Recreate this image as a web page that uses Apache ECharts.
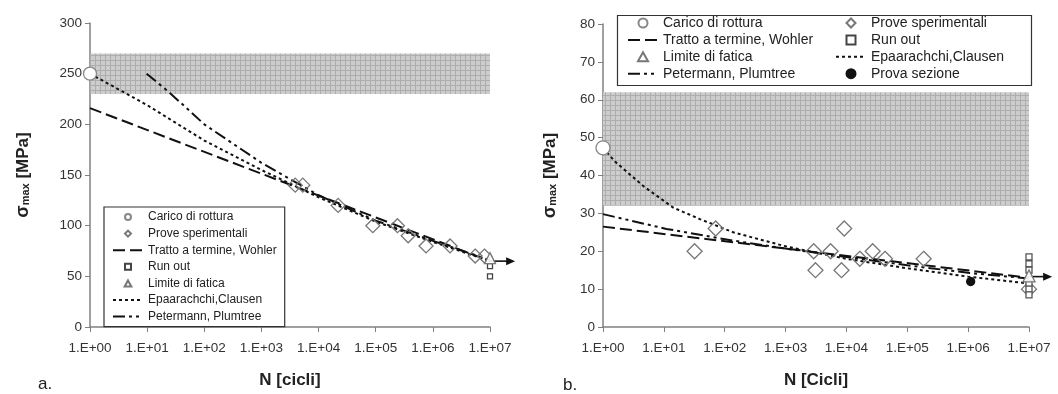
<!DOCTYPE html>
<html>
<head>
<meta charset="utf-8">
<script src="https://cdn.jsdelivr.net/npm/echarts@6/dist/echarts.min.js"></script>
<style>
  html, body { margin: 0; padding: 0; background: #fff; }
  #chart { width: 1058px; height: 394px; }
</style>
</head>
<body>
<div id="chart"></div>
<script>
// --- chart a ---
const aRottura = [[1, 250]];
const aProve = [[3.9e3, 140], [5.3e3, 140], [2.2e4, 120], [8.9e4, 100], [2.4e5, 100],
  [3.7e5, 90], [7.6e5, 80], [2.0e6, 80], [5.5e6, 70], [8.0e6, 70]];
const aRunOut = [[1e7, 60], [1e7, 50]];
const aLimite = [[1e7, 68]];
const aWohler = [[1, 216], [1e7, 65]];
const aEpaarachchi = [[1, 250], [10, 219], [1e2, 184], [1e3, 155], [1e4, 128], [1e5, 104], [1e6, 84], [1e7, 65]];
const aPetermann = [[9.8, 250], [25, 231], [1e2, 200], [1e3, 162], [1e4, 130], [1e5, 105], [1e6, 85], [1e7, 66]];
const aArrow = [[1e7, 2.75e7, 65]]; // [from N, to N, sigma]
const aBand = [[1, 230], [1.32e7, 270]];

// --- chart b ---
const bRottura = [[1, 47.3]];
const bProve = [[32, 20], [71, 26], [2.9e3, 20], [3.1e3, 15], [5.5e3, 20], [8.3e3, 15], [9.2e3, 26],
  [1.66e4, 18], [2.7e4, 20], [4.3e4, 18], [1.86e5, 18], [1e7, 10]];
const bRunOut = [[1e7, 18.5], [1e7, 16.7], [1e7, 15], [1e7, 11.5], [1e7, 10], [1e7, 8.5]];
const bLimite = [[1e7, 13.5]];
const bSezione = [[1.1e6, 12]];
const bWohler = [[1, 26.5], [1e7, 13]];
const bEpaarachchi = [[1, 47.3], [1.57, 43.7], [4.6, 37.2], [14.3, 31.5], [39, 28.5], [138, 25],
  [1e3, 21.3], [1e4, 18], [1e5, 15.5], [1e6, 13.3], [1e7, 11.5]];
const bPetermann = [[1, 29.8], [11, 25.9], [138, 22.8], [1e3, 20.7], [1e4, 18.5], [1e5, 16.3], [1e6, 14.3], [1e7, 12.8]];
const bArrow = [[1e7, 2.4e7, 13.3]];
const bBand = [[1, 32], [1.26e7, 62]];

const FONT = "'Liberation Sans', Arial, sans-serif";
const INK = "#111";

// legend icons that keep their aspect ratio
const ICON_DIAMOND = "path://M5,0L10,5L5,10L0,5Z";
const ICON_SQUARE = "path://M0,0L10,0L10,10L0,10Z";
const ICON_TRIANGLE = "path://M5,0L10,9L0,9Z";

// hatched grey pattern for the bands
const pat = document.createElement("canvas");
pat.width = 5;
pat.height = 5;
const pctx = pat.getContext("2d");
pctx.fillStyle = "#cdcdcd";
pctx.fillRect(0, 0, 5, 5);
pctx.fillStyle = "#adadad";
pctx.fillRect(0, 0, 5, 1);
pctx.fillRect(0, 0, 1, 5);

const chart = echarts.init(document.getElementById("chart"));

function xAxis(gridIndex, name) {
  return {
    type: "log",
    logBase: 10,
    gridIndex,
    min: 1,
    max: 1e7,
    name,
    nameLocation: "middle",
    nameGap: 45,
    nameTextStyle: { fontFamily: FONT, fontSize: 17, fontWeight: "bold", color: "#222" },
    axisLine: { show: true, onZero: false, lineStyle: { color: "#808080", width: 1.5 } },
    axisTick: { show: true, length: 5, lineStyle: { color: "#808080" } },
    minorTick: { show: false },
    splitLine: { show: false },
    axisLabel: {
      fontFamily: FONT,
      fontSize: 13.5,
      color: "#333",
      margin: 14,
      formatter: (v) => "1.E+" + String(Math.round(Math.log10(v))).padStart(2, "0"),
    },
  };
}

function yAxis(gridIndex, max, interval, nameGap) {
  return {
    type: "value",
    gridIndex,
    min: 0,
    max,
    interval,
    name: "{s|σ}{m|max}{n| [MPa]}",
    nameLocation: "middle",
    nameRotate: 90,
    nameGap,
    nameTextStyle: {
      rich: {
        s: { fontFamily: FONT, fontSize: 18, fontWeight: "bold", color: "#222" },
        m: { fontFamily: FONT, fontSize: 11, fontWeight: "bold", color: "#222", padding: [6, 0, 0, 0] },
        n: { fontFamily: FONT, fontSize: 17, fontWeight: "bold", color: "#222" },
      },
    },
    axisLine: { show: true, lineStyle: { color: "#808080", width: 1.5 } },
    axisTick: { show: true, length: 5, lineStyle: { color: "#808080" } },
    splitLine: { show: false },
    axisLabel: { fontFamily: FONT, fontSize: 13.5, color: "#333", margin: 8 },
  };
}

function band(idx, coords) {
  return {
    type: "line",
    xAxisIndex: idx,
    yAxisIndex: idx,
    data: [],
    silent: true,
    clip: false,
    z: 1,
    markArea: {
      silent: true,
      itemStyle: { color: { image: pat, repeat: "repeat" } },
      data: [[{ coord: coords[0] }, { coord: coords[1] }]],
    },
  };
}

function curve(idx, name, data, dash) {
  return {
    name,
    type: "line",
    xAxisIndex: idx,
    yAxisIndex: idx,
    data,
    symbol: "none",
    clip: false,
    z: 3,
    lineStyle: { color: INK, width: 2, type: dash },
    // transparent so the legend shows only the dashed stroke
    itemStyle: { color: "rgba(0,0,0,0)", borderColor: "rgba(0,0,0,0)", borderWidth: 0 },
  };
}

// fatigue-limit arrow running past the end of the axis
function arrow(idx, data) {
  return {
    type: "custom",
    xAxisIndex: idx,
    yAxisIndex: idx,
    silent: true,
    clip: false,
    z: 4,
    data,
    encode: { x: [0, 1], y: 2 },
    renderItem(params, api) {
      const a = api.coord([api.value(0), api.value(2)]);
      const b = api.coord([api.value(1), api.value(2)]);
      return {
        type: "group",
        children: [
          { type: "line", shape: { x1: a[0], y1: a[1], x2: b[0] - 5, y2: b[1] }, style: { stroke: INK, lineWidth: 1.6 } },
          { type: "polygon", shape: { points: [[b[0], b[1]], [b[0] - 9, b[1] - 4], [b[0] - 9, b[1] + 4]] }, style: { fill: INK } },
        ],
      };
    },
  };
}

function marks(idx, name, data, symbol, size, fill, stroke, z) {
  return {
    name,
    type: "scatter",
    xAxisIndex: idx,
    yAxisIndex: idx,
    data,
    symbol,
    symbolSize: size,
    clip: false,
    z: z || 5,
    itemStyle: { color: fill, borderColor: stroke, borderWidth: 1.3, opacity: 1 },
  };
}

const WOHLER = [12, 5];
const EPA = [3, 3];
const PETER = [12, 4, 3, 4, 3, 4];

const legendText = { fontFamily: FONT, color: "#222" };
const L = {
  rottura: { name: "Carico di rottura", icon: "circle" },
  prove: { name: "Prove sperimentali", icon: ICON_DIAMOND },
  wohler: { name: "Tratto a termine, Wohler" },
  runout: { name: "Run out", icon: ICON_SQUARE },
  limite: { name: "Limite di fatica", icon: ICON_TRIANGLE },
  epa: { name: "Epaarachchi,Clausen" },
  peter: { name: "Petermann, Plumtree" },
  sezione: { name: "Prova sezione", icon: "circle" },
};

const option = {
  animation: false,
  backgroundColor: "#fff",
  grid: [
    { left: 90, right: 568, top: 23, bottom: 66, containLabel: false },
    { left: 603, right: 29, top: 24, bottom: 63, containLabel: false },
  ],
  xAxis: [xAxis(0, "N [cicli]"), xAxis(1, "N [Cicli]")],
  yAxis: [yAxis(0, 300, 50, 58), yAxis(1, 80, 10, 44)],
  legend: [
    {
      left: 104,
      top: 207,
      orient: "vertical",
      padding: [4, 8, 4, 8],
      itemGap: 4.6,
      itemWidth: 30,
      itemHeight: 6,
      symbolKeepAspect: true,
      borderColor: "#333",
      borderWidth: 1.2,
      backgroundColor: "#fff",
      textStyle: Object.assign({ fontSize: 12 }, legendText),
      data: [L.rottura, L.prove, L.wohler, L.runout, L.limite, L.epa, L.peter],
    },
    {
      left: 627,
      top: 16,
      orient: "vertical",
      padding: 0,
      itemGap: 2.9,
      itemWidth: 30,
      itemHeight: 9,
      symbolKeepAspect: true,
      textStyle: Object.assign({ fontSize: 14 }, legendText),
      data: [L.rottura, L.wohler, L.limite, L.peter],
    },
    {
      left: 835,
      top: 16,
      orient: "vertical",
      padding: 0,
      itemGap: 2.9,
      itemWidth: 30,
      itemHeight: 9,
      symbolKeepAspect: true,
      textStyle: Object.assign({ fontSize: 14 }, legendText),
      data: [L.prove, L.runout, L.epa, L.sezione],
    },
  ],
  graphic: [
    { type: "rect", left: 615, top: 13, shape: { width: 414, height: 70 }, style: { fill: "none", stroke: "#333", lineWidth: 1.2 }, z: 100 },
    { type: "text", left: 38, top: 376, style: { text: "a.", font: "17px " + FONT, fill: "#222" } },
    { type: "text", left: 563, top: 377, style: { text: "b.", font: "17px " + FONT, fill: "#222" } },
  ],
  series: [
    band(0, aBand),
    curve(0, "Tratto a termine, Wohler", aWohler, WOHLER),
    curve(0, "Epaarachchi,Clausen", aEpaarachchi, EPA),
    curve(0, "Petermann, Plumtree", aPetermann, PETER),
    arrow(0, aArrow),
    marks(0, "Carico di rottura", aRottura, "circle", 13, "#fff", "#888"),
    marks(0, "Prove sperimentali", aProve, "diamond", 14, "rgba(255,255,255,0)", "#777"),
    marks(0, "Run out", aRunOut, "rect", 5, "#fff", "#444"),
    marks(0, "Limite di fatica", aLimite, "triangle", 11, "rgba(255,255,255,0.9)", "#777", 6),

    band(1, bBand),
    curve(1, "Tratto a termine, Wohler", bWohler, WOHLER),
    curve(1, "Epaarachchi,Clausen", bEpaarachchi, EPA),
    curve(1, "Petermann, Plumtree", bPetermann, PETER),
    arrow(1, bArrow),
    marks(1, "Carico di rottura", bRottura, "circle", 14, "#fff", "#888"),
    marks(1, "Prove sperimentali", bProve, "diamond", 15, "rgba(255,255,255,0)", "#777"),
    marks(1, "Run out", bRunOut, "rect", 6, "#fff", "#555"),
    marks(1, "Limite di fatica", bLimite, "triangle", 12, "rgba(255,255,255,0.9)", "#777", 6),
    marks(1, "Prova sezione", bSezione, "circle", 8, "#111", "#111"),
  ],
};

chart.setOption(option);
</script>
</body>
</html>
